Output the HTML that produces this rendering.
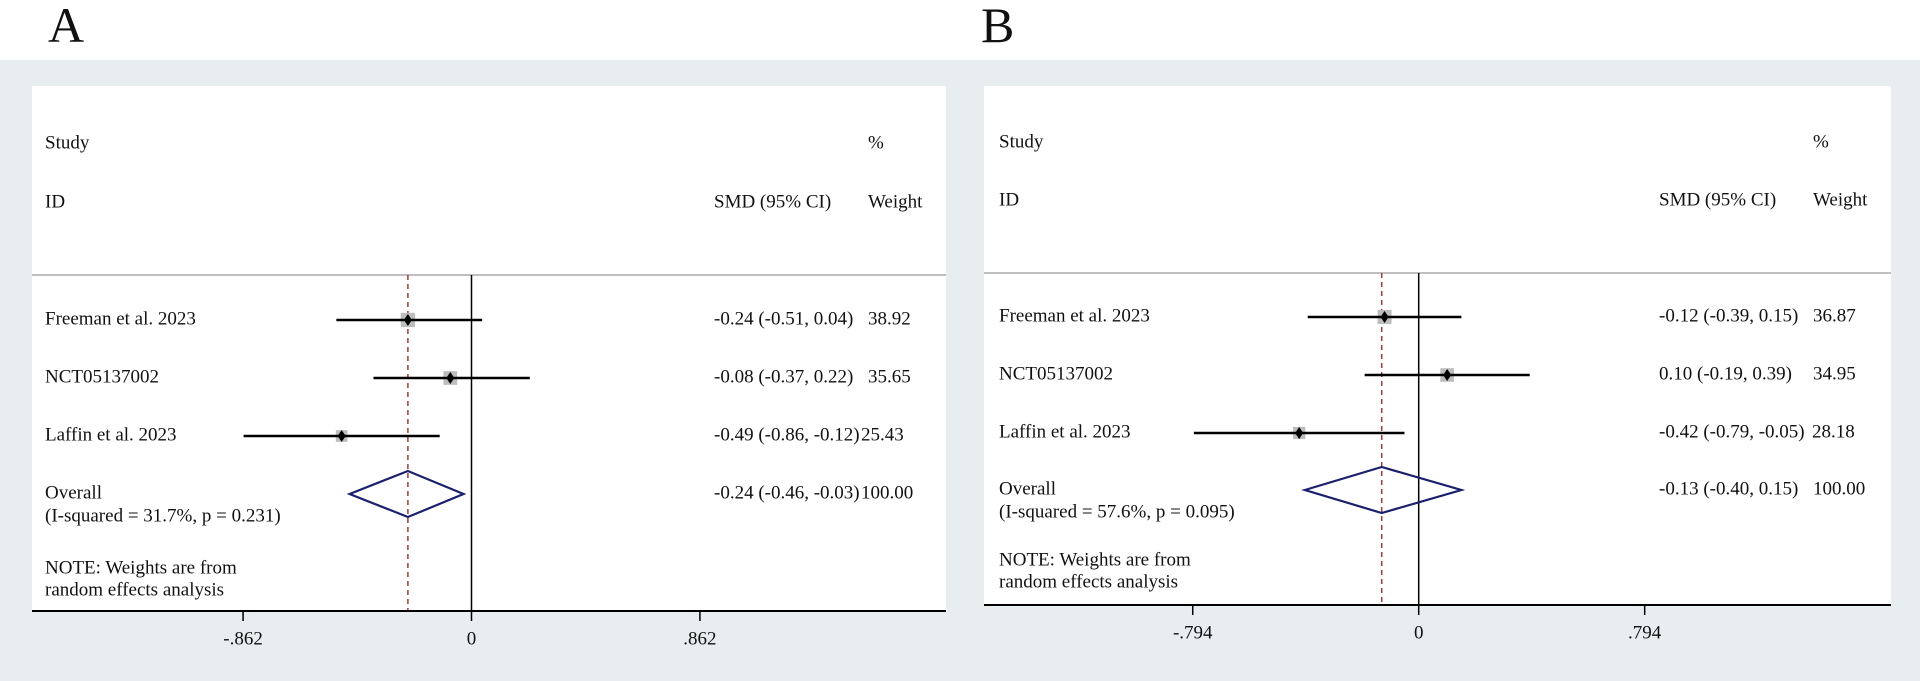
<!DOCTYPE html>
<html><head><meta charset="utf-8"><style>
html,body{margin:0;padding:0;background:#fff;width:1920px;height:681px;overflow:hidden}
svg text{font-family:"Liberation Serif",serif;fill:#111}
</style></head><body>
<svg id="s" width="1920" height="681" xmlns="http://www.w3.org/2000/svg">
<rect x="0" y="60" width="1920" height="621" fill="#e8eef0"/>
<text x="48" y="42" font-size="50">A</text>
<text x="981" y="42" font-size="50">B</text>
</svg>
<script>
const studies = ["Freeman et al. 2023","NCT05137002","Laffin et al. 2023"];
const aEst = [-0.24,-0.08,-0.49];
const aLo = [-0.51,-0.37,-0.86];
const aHi = [0.04,0.22,-0.12];
const aW = [38.92,35.65,25.43];
const aOverall = [-0.24,-0.46,-0.03];
const aCI = ["-0.24 (-0.51, 0.04)","-0.08 (-0.37, 0.22)","-0.49 (-0.86, -0.12)"];
const aWLabel = ["38.92","35.65","25.43"];
const aTicks = [-0.862,0,0.862];
const aTickLabels = ["-.862","0",".862"];
const bEst = [-0.12,0.10,-0.42];
const bLo = [-0.39,-0.19,-0.79];
const bHi = [0.15,0.39,-0.05];
const bW = [36.87,34.95,28.18];
const bOverall = [-0.13,-0.40,0.15];
const bCI = ["-0.12 (-0.39, 0.15)","0.10 (-0.19, 0.39)","-0.42 (-0.79, -0.05)"];
const bWLabel = ["36.87","34.95","28.18"];
const bTicks = [-0.794,0,0.794];
const bTickLabels = ["-.794","0",".794"];

const svg=document.getElementById('s');
const NS='http://www.w3.org/2000/svg';
function el(tag,attrs,parent){const e=document.createElementNS(NS,tag);for(const k in attrs)e.setAttribute(k,attrs[k]);(parent||svg).appendChild(e);return e;}
function txt(x,y,s,size,anchor){const t=el('text',{x:x,y:y,'font-size':size||19,'dominant-baseline':'middle','text-anchor':anchor||'start'});t.textContent=s;return t;}

function panel(p){
  const g=el('g',{});
  
  
  const xs=v=>p.zero+v*p.ppu;
  const bg=el('rect',{x:p.left,y:p.top,width:p.right-p.left,height:p.axisY-p.top,fill:'#fff'},g);
  
  
  let t;
  t=txt(p.textX,p.hdrY1,'Study');g.appendChild(t);
  t=txt(p.textX,p.hdrY2,'ID');g.appendChild(t);
  t=txt(p.wX,p.hdrY1,'%');g.appendChild(t);
  t=txt(p.ciX,p.hdrY2,'SMD (95% CI)');g.appendChild(t);
  t=txt(p.wX,p.hdrY2,'Weight');g.appendChild(t);
  let l=el('line',{x1:p.left,x2:p.right,y1:p.sepY,y2:p.sepY,stroke:'#aaa','stroke-width':1.5},g);
  
  l=el('line',{x1:xs(0),x2:xs(0),y1:p.sepY,y2:p.axisY,stroke:'#000','stroke-width':1.5},g);
  
  l=el('line',{x1:xs(p.ov[0]),x2:xs(p.ov[0]),y1:p.sepY,y2:p.axisY,stroke:'#9b3b3b','stroke-width':1.5,'stroke-dasharray':'5,4'},g);
  
  for(let i=0;i<studies.length;i++){
    const y=p.rows[i];
    const nm=studies[i];
    const lab=txt(p.textX,y,nm);g.appendChild(lab);
    
    const sz=Math.sqrt(p.w[i])*2.3;
    const box=el('rect',{x:xs(p.est[i])-sz/2,y:y-sz/2,width:sz,height:sz,fill:'#bdbdbd'},g);
    
    const ci=el('line',{x1:xs(p.lo[i]),x2:xs(p.hi[i]),y1:y,y2:y,stroke:'#000','stroke-width':2.5},g);
    
    const cx=xs(p.est[i]);
    const d=el('polygon',{points:`${cx-4},${y} ${cx},${y-6} ${cx+4},${y} ${cx},${y+6}`,fill:'#000'},g);
    
    t=txt(p.ciX,y,p.ci[i]);g.appendChild(t);
    t=txt(p.ciWX[i],y,p.wl[i]);g.appendChild(t);
  }
  const oy=p.ovY;
  const dm=el('polygon',{points:`${xs(p.ov[1])},${oy} ${xs(p.ov[0])},${oy-23} ${xs(p.ov[2])},${oy} ${xs(p.ov[0])},${oy+23}`,fill:'none',stroke:'#1a1f6e','stroke-width':2.2},g);
  
  t=txt(p.textX,oy,'Overall');g.appendChild(t);
  t=txt(p.textX,oy+23,p.isq);g.appendChild(t);
  t=txt(p.ciX,oy,p.ovText);g.appendChild(t);
  t=txt(p.ovWX,oy,'100.00');g.appendChild(t);
  t=txt(p.textX,p.noteY,'NOTE: Weights are from');g.appendChild(t);
  t=txt(p.textX,p.noteY+22,'random effects analysis');g.appendChild(t);
  l=el('line',{x1:p.left,x2:p.right,y1:p.axisY,y2:p.axisY,stroke:'#000','stroke-width':2},g);
  
  for(let i=0;i<p.ticks.length;i++){
    const x=xs(p.ticks[i]);
    const tk=el('line',{x1:x,x2:x,y1:p.axisY,y2:p.axisY+10,stroke:'#000','stroke-width':1.5},g);
    
    t=txt(x,p.axisY+29,p.tl[i],19,'middle');g.appendChild(t);
  }
}
panel({name:'panel-a',left:32,right:946,top:86,sepY:275,axisY:611,zero:471.5,ppu:265,textX:45,ciX:714,wX:868,hdrY1:144,hdrY2:203,
 rows:[320,378,436],ovY:494,noteY:569,est:aEst,lo:aLo,hi:aHi,w:aW,ci:aCI,wl:aWLabel,ciWX:[868,868,861],ov:aOverall,
 isq:'(I-squared = 31.7%, p = 0.231)',ovText:'-0.24 (-0.46, -0.03)',ovWX:861,ticks:aTicks,tl:aTickLabels});
panel({name:'panel-b',left:984,right:1891,top:86,sepY:273,axisY:605,zero:1418.7,ppu:284.6,textX:999,ciX:1659,wX:1813,hdrY1:143,hdrY2:201,
 rows:[317,375,433],ovY:490,noteY:561,est:bEst,lo:bLo,hi:bHi,w:bW,ci:bCI,wl:bWLabel,ciWX:[1813,1813,1812],ov:bOverall,
 isq:'(I-squared = 57.6%, p = 0.095)',ovText:'-0.13 (-0.40, 0.15)',ovWX:1813,ticks:bTicks,tl:bTickLabels});
</script>
</body></html>
